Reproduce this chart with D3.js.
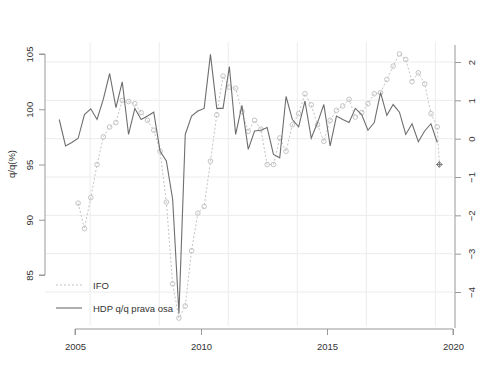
<!DOCTYPE html>
<html>
<head>
<meta charset="utf-8">
<script src="https://cdn.jsdelivr.net/npm/d3@7"></script>
<style>
  body { margin: 0; background: #fff; }
  text { font-family: "Liberation Sans", Arial, sans-serif; fill: #333; }
</style>
</head>
<body>
<svg id="chart" width="500" height="375"></svg>
<script>
// quarterly data, first quarter 2004Q2
const startYear = 2004, startQuarter = 2;

// HDP q/q growth in % (right axis)
const hdp = [0.50, -0.19, -0.10, 0.01, 0.63, 0.78, 0.50, 1.03, 1.70, 0.81,
  1.48, 0.11, 0.79, 0.50, 0.59, 0.69, -0.32, -0.58, -1.58, -4.56,
  0.11, 0.59, 0.72, 0.79, 2.20, 0.79, 0.79, 1.88, 0.11, 0.87,
  -0.28, 0.20, 0.22, 0.29, -0.41, -0.50, 1.10, 0.50, 0.31, 0.98,
  0.01, 0.42, 0.89, -0.19, 0.59, 0.50, 0.42, 0.79, 0.63, 0.22,
  0.42, 1.20, 0.61, 0.89, 0.69, 0.11, 0.39, -0.08, 0.20, 0.39, -0.10];

// IFO index (left axis), null where missing
const ifo = [null, null, null, 91.5, 89.2, 92.0, 95.0, 97.5, 98.4, 98.8,
  100.8, 100.7, 100.5, 99.7, 99.0, 98.1, 96.2, 91.6, 84.2, 81.1,
  82.2, 87.2, 90.6, 91.2, 95.3, 99.5, 103.0, 102.0, 101.9, 99.8,
  98.0, 99.0, 98.2, 95.0, 95.0, 97.4, 96.2, 98.6, 99.6, 101.4,
  100.4, 98.6, 97.1, 99.0, 99.9, 100.3, 100.9, 99.3, 99.7, 100.5,
  101.4, 101.5, 102.7, 103.9, 105.0, 104.5, 102.5, 103.3, 102.3, 99.6, 98.4];

// latest monthly IFO reading
const ifoLatestMonth = "2019-06";
const ifoLatestValue = 95.0;

const xTicks = [2005, 2010, 2015, 2020];
const leftTicks = [85, 90, 95, 100, 105];
const rightTicks = [-4, -3, -2, -1, 0, 1, 2];
const gridYears = [2005.6, 2008.34, 2011.08, 2013.82, 2016.56, 2019.3];

// quarter -> decimal year at the middle of the quarter
const quarterTime = i => {
  const q = startQuarter - 1 + i;
  return startYear + Math.floor(q / 4) + (q % 4) / 4 + 0.125;
};
const hdpData = hdp.map((v, i) => ({ t: quarterTime(i), v }));
const ifoData = ifo.map((v, i) => ({ t: quarterTime(i), v })).filter(d => d.v !== null);
const [ly, lm] = ifoLatestMonth.split("-").map(Number);
const ifoLatest = { t: ly + (lm - 1) / 12 + 1 / 24, v: ifoLatestValue };

const svg = d3.select("#chart");

const x = d3.scaleLinear().domain([2005, 2020]).range([75, 453]);
const yL = d3.scaleLinear().domain([85, 105]).range([275, 54]);
const yR = d3.scaleLinear().domain([-4, 2]).range([292, 62]);

const axisColor = "#999";
const gridColor = "#ececec";

// grid
svg.append("g").selectAll("line")
  .data(rightTicks).enter().append("line")
  .attr("x1", 45).attr("x2", 453)
  .attr("y1", d => yR(d)).attr("y2", d => yR(d))
  .attr("stroke", gridColor).attr("stroke-width", 1);

svg.append("g").selectAll("line")
  .data(gridYears).enter().append("line")
  .attr("x1", d => x(d)).attr("x2", d => x(d))
  .attr("y1", 42).attr("y2", 326)
  .attr("stroke", gridColor).attr("stroke-width", 1);

// axes
const bottom = svg.append("g")
  .attr("transform", "translate(0,329)")
  .call(d3.axisBottom(x).tickValues(xTicks).tickFormat(d3.format("d")).tickSize(6).tickSizeOuter(0));
bottom.select(".domain").attr("stroke", axisColor).attr("d", `M${x(2005)},6V0H${x(2020)}V6`);
bottom.selectAll(".tick line").attr("stroke", axisColor);
bottom.selectAll(".tick text").attr("font-size", 9.5).attr("dy", "1.25em").attr("fill", "#333");

const left = svg.append("g")
  .attr("transform", "translate(45,0)")
  .call(d3.axisLeft(yL).tickValues(leftTicks).tickSize(6).tickSizeOuter(0));
left.select(".domain").attr("stroke", axisColor).attr("d", `M-6,${yL(85)}H0V${yL(105)}H-6`);
left.selectAll(".tick line").attr("stroke", axisColor);
left.selectAll(".tick text")
  .attr("font-size", 9.5).attr("fill", "#333")
  .attr("text-anchor", "middle").attr("x", 0).attr("dy", 0)
  .attr("transform", "translate(-12,0) rotate(-90)");

const right = svg.append("g")
  .attr("transform", "translate(455,0)")
  .call(d3.axisRight(yR).tickValues(rightTicks).tickFormat(d3.format("d")).tickSize(6).tickSizeOuter(0));
right.select(".domain").attr("stroke", axisColor).attr("d", "M0,45V328");
right.selectAll(".tick line").attr("stroke", axisColor);
right.selectAll(".tick text")
  .attr("font-size", 9.5).attr("fill", "#333")
  .attr("text-anchor", "middle").attr("x", 0).attr("dy", 0)
  .attr("transform", "translate(19.5,0) rotate(-90)");

svg.append("text")
  .attr("transform", "translate(15,164) rotate(-90)")
  .attr("text-anchor", "middle")
  .attr("font-size", 9.5)
  .text("q/q(%)");

// IFO dotted line with circles
const ifoLine = d3.line().x(d => x(d.t)).y(d => yL(d.v));
svg.append("path")
  .datum(ifoData.concat([ifoLatest]))
  .attr("d", ifoLine)
  .attr("fill", "none")
  .attr("stroke", "#c4c4c4")
  .attr("stroke-width", 1)
  .attr("stroke-dasharray", "2,2");

svg.append("g").selectAll("circle")
  .data(ifoData).enter().append("circle")
  .attr("cx", d => x(d.t)).attr("cy", d => yL(d.v))
  .attr("r", 2.3)
  .attr("fill", "none")
  .attr("stroke", "#c4c4c4")
  .attr("stroke-width", 1);

// HDP line
const hdpLine = d3.line().x(d => x(d.t)).y(d => yR(d.v));
svg.append("path")
  .datum(hdpData)
  .attr("d", hdpLine)
  .attr("fill", "none")
  .attr("stroke", "#6e6e6e")
  .attr("stroke-width", 1.1);

// latest IFO marker (diamond with cross)
const lx = x(ifoLatest.t), lyy = yL(ifoLatest.v), s = 2.8;
svg.append("path")
  .attr("d", `M${lx},${lyy - s}L${lx + s},${lyy}L${lx},${lyy + s}L${lx - s},${lyy}Z M${lx - s},${lyy}H${lx + s} M${lx},${lyy - s}V${lyy + s}`)
  .attr("fill", "none")
  .attr("stroke", "#777")
  .attr("stroke-width", 1);

// legend
const legend = svg.append("g");
const legendItems = [
  { label: "IFO", y: 285, dash: "2,2", color: "#c4c4c4" },
  { label: "HDP q/q prava osa", y: 308, dash: null, color: "#6e6e6e" }
];
legendItems.forEach(it => {
  legend.append("line")
    .attr("x1", 56).attr("x2", 82).attr("y1", it.y).attr("y2", it.y)
    .attr("stroke", it.color).attr("stroke-width", 1.1)
    .attr("stroke-dasharray", it.dash);
  legend.append("text")
    .attr("x", 93).attr("y", it.y + 3.5)
    .attr("font-size", 9.5)
    .text(it.label);
});
</script>
</body>
</html>
